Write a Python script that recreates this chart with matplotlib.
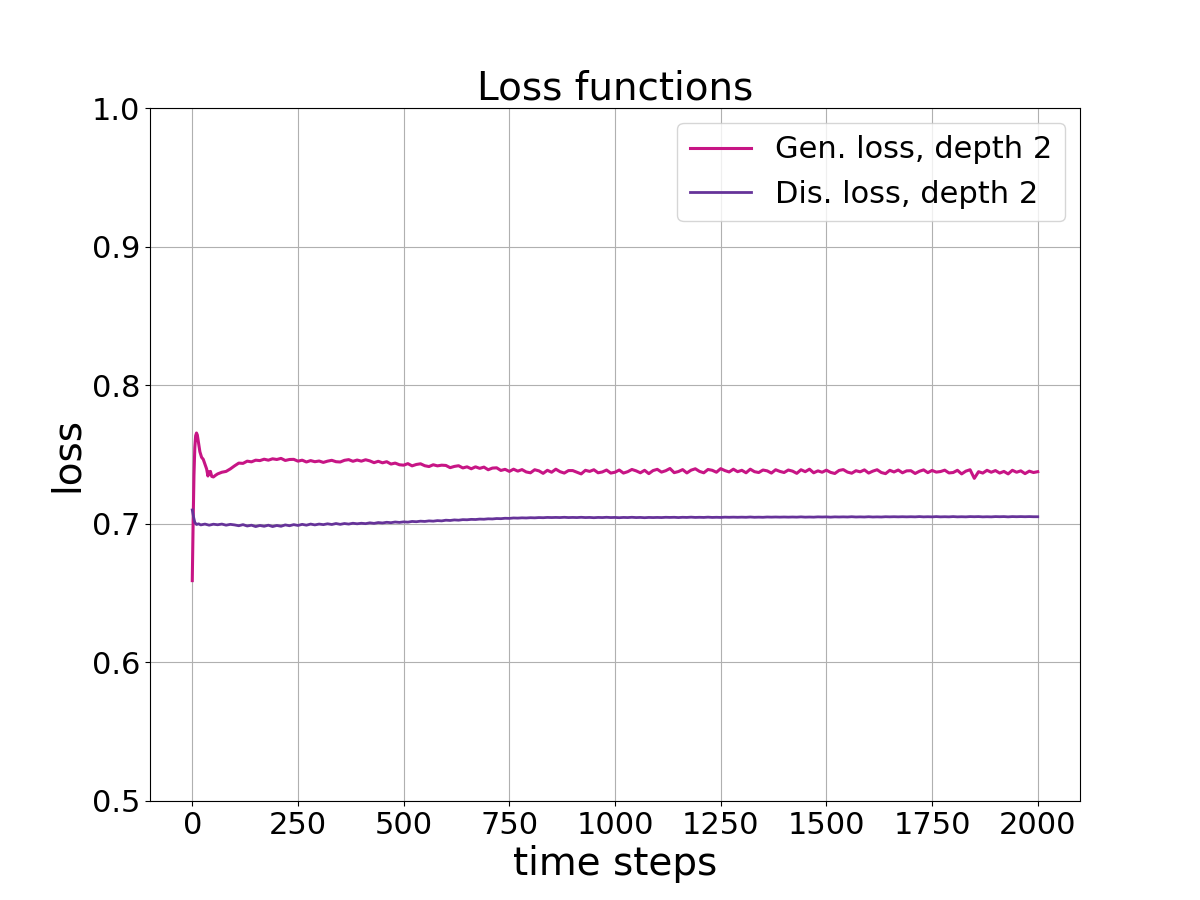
import numpy as np
import matplotlib
matplotlib.use("Agg")
import matplotlib.pyplot as plt

# early transient, then one value every 10 steps
gen_steps_early = [0, 2, 4, 6, 8, 10, 12, 15, 18, 22, 26, 30, 34, 37, 40, 43, 46, 50, 55,
                   60, 70, 80, 90]
gen_loss_early = [0.659, 0.700, 0.735, 0.755, 0.7635, 0.7655, 0.764, 0.758, 0.752, 0.748,
                  0.7465, 0.743, 0.7395, 0.7345, 0.7375, 0.7378, 0.7342, 0.7338, 0.7350,
                  0.7360, 0.7372, 0.7378, 0.7396]

gen_loss_late = [
    0.7418, 0.7438, 0.7436, 0.7452, 0.7447, 0.7459, 0.7456, 0.7466, 0.7459, 0.7469,
    0.7464, 0.7472, 0.7457, 0.7464, 0.7465, 0.7452, 0.7459, 0.7446, 0.7456, 0.7448,
    0.7453, 0.7443, 0.7452, 0.7458, 0.7448, 0.7446, 0.7458, 0.7463, 0.7451, 0.7460,
    0.7452, 0.7462, 0.7454, 0.7441, 0.7451, 0.7440, 0.7448, 0.7431, 0.7438, 0.7426,
    0.7423, 0.7434, 0.7418, 0.7428, 0.7433, 0.7419, 0.7413, 0.7426, 0.7418, 0.7423,
    0.7421, 0.7405, 0.7414, 0.7419, 0.7403, 0.7411, 0.7397, 0.7411, 0.7400, 0.7409,
    0.7390, 0.7402, 0.7404, 0.7385, 0.7393, 0.7378, 0.7394, 0.7380, 0.7391, 0.7374,
    0.7368, 0.7390, 0.7382, 0.7364, 0.7386, 0.7372, 0.7394, 0.7376, 0.7366, 0.7384,
    0.7384, 0.7372, 0.7360, 0.7386, 0.7378, 0.7390, 0.7368, 0.7374, 0.7388, 0.7366,
    0.7372, 0.7388, 0.7366, 0.7376, 0.7392, 0.7382, 0.7368, 0.7386, 0.7362, 0.7384,
    0.7393, 0.7373, 0.7383, 0.7399, 0.7369, 0.7377, 0.7391, 0.7367, 0.7387, 0.7397,
    0.7378, 0.7368, 0.7392, 0.7386, 0.7372, 0.7398, 0.7384, 0.7374, 0.7394, 0.7376,
    0.7386, 0.7368, 0.7394, 0.7376, 0.7370, 0.7388, 0.7382, 0.7366, 0.7390, 0.7378,
    0.7370, 0.7388, 0.7380, 0.7364, 0.7390, 0.7376, 0.7394, 0.7368, 0.7382, 0.7372,
    0.7387, 0.7371, 0.7363, 0.7385, 0.7391, 0.7373, 0.7365, 0.7383, 0.7375, 0.7389,
    0.7366, 0.7380, 0.7390, 0.7370, 0.7362, 0.7386, 0.7374, 0.7388, 0.7368, 0.7382,
    0.7383, 0.7363, 0.7379, 0.7389, 0.7369, 0.7385, 0.7373, 0.7377, 0.7387, 0.7367,
    0.7370, 0.7386, 0.7360, 0.7380, 0.7390, 0.7328, 0.7376, 0.7366, 0.7386, 0.7372,
    0.7384, 0.7366, 0.7378, 0.7360, 0.7386, 0.7372, 0.7382, 0.7362, 0.7380, 0.7370,
    0.7376,
]

dis_steps_early = [0, 3, 6, 10, 15, 20, 30, 40, 50, 60, 70, 80, 90]
dis_loss_early = [0.7100, 0.7050, 0.7010, 0.6995, 0.7000, 0.6992, 0.6998, 0.6990, 0.6997,
                  0.6993, 0.6998, 0.6990, 0.6996]

dis_loss_late = [
    0.6992, 0.6986, 0.6994, 0.6984, 0.6990, 0.6980, 0.6988, 0.6982, 0.6990, 0.6980,
    0.6988, 0.6982, 0.6992, 0.6986, 0.6994, 0.6988, 0.6996, 0.6990, 0.6998, 0.6992,
    0.6998, 0.6994, 0.7000, 0.6995, 0.7002, 0.6996, 0.7002, 0.6998, 0.7004, 0.7000,
    0.7004, 0.7001, 0.7007, 0.7003, 0.7009, 0.7006, 0.7011, 0.7008, 0.7013, 0.7010,
    0.7014, 0.7012, 0.7017, 0.7015, 0.7019, 0.7017, 0.7021, 0.7019, 0.7023, 0.7021,
    0.7026, 0.7024, 0.7028, 0.7026, 0.7030, 0.7029, 0.7032, 0.7031, 0.7034, 0.7033,
    0.7036, 0.7035, 0.7038, 0.7037, 0.7040, 0.7039, 0.7042, 0.7041, 0.7043, 0.7042,
    0.7044, 0.7043, 0.7045, 0.7044, 0.7046, 0.7045, 0.7046, 0.7045, 0.7047, 0.7045,
    0.7046, 0.7045, 0.7047, 0.7045, 0.7046, 0.7044, 0.7046, 0.7045, 0.7047, 0.7045,
    0.7046, 0.7044, 0.7046, 0.7045, 0.7047, 0.7045, 0.7046, 0.7044, 0.7046, 0.7045,
    0.7046, 0.7045, 0.7047, 0.7046, 0.7047, 0.7045, 0.7047, 0.7046, 0.7048, 0.7046,
    0.7047, 0.7046, 0.7048, 0.7046, 0.7047, 0.7046, 0.7048, 0.7047, 0.7048, 0.7047,
    0.7048, 0.7047, 0.7049, 0.7047, 0.7048, 0.7047, 0.7049, 0.7048, 0.7049, 0.7048,
    0.7049, 0.7048, 0.7049, 0.7048, 0.7050, 0.7048, 0.7049, 0.7048, 0.7050, 0.7049,
    0.7050, 0.7048, 0.7050, 0.7049, 0.7050, 0.7049, 0.7051, 0.7049, 0.7050, 0.7049,
    0.7051, 0.7049, 0.7050, 0.7049, 0.7051, 0.7050, 0.7051, 0.7050, 0.7051, 0.7050,
    0.7051, 0.7050, 0.7052, 0.7050, 0.7051, 0.7050, 0.7052, 0.7050, 0.7051, 0.7050,
    0.7052, 0.7050, 0.7051, 0.7050, 0.7052, 0.7051, 0.7052, 0.7050, 0.7051, 0.7050,
    0.7052, 0.7051, 0.7052, 0.7050, 0.7052, 0.7051, 0.7052, 0.7051, 0.7052, 0.7051,
    0.7051,
]

late_steps = list(range(100, 2001, 10))

GEN_COLOR = '#C71585'
DIS_COLOR = '#663399'


def main():
    gen_x = np.array(gen_steps_early + late_steps)
    gen_y = np.array(gen_loss_early + gen_loss_late)
    dis_x = np.array(dis_steps_early + late_steps)
    dis_y = np.array(dis_loss_early + dis_loss_late)

    fig, ax = plt.subplots(figsize=(12, 9), dpi=100)
    ax.plot(gen_x, gen_y, color=GEN_COLOR, linewidth=2.2, label='Gen. loss, depth 2')
    ax.plot(dis_x, dis_y, color=DIS_COLOR, linewidth=2, label='Dis. loss, depth 2')

    ax.set_ylim(0.5, 1.0)
    ax.set_title('Loss functions', fontsize=28)
    ax.set_xlabel('time steps', fontsize=28)
    ax.set_ylabel('loss', fontsize=28)
    ax.tick_params(labelsize=22)
    ax.grid(True)
    ax.legend(loc='upper right', fontsize=22)

    fig.savefig('out.png')
    plt.close(fig)


if __name__ == '__main__':
    main()
